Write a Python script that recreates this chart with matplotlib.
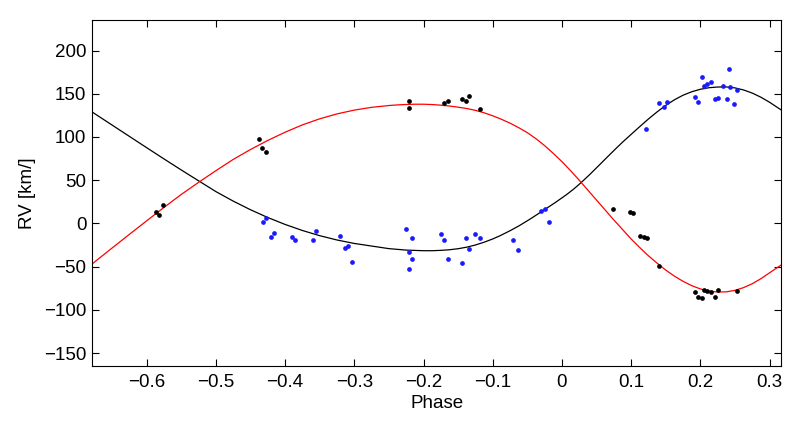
import matplotlib
matplotlib.use("Agg")
import matplotlib.pyplot as plt

plt.rcParams['font.family'] = ['Liberation Sans', 'DejaVu Sans']

# --- fitted model curves ---
black_curve_x = [-0.679, -0.65, -0.625, -0.6, -0.575, -0.55, -0.525, -0.5, -0.475, -0.45,
                 -0.425, -0.4, -0.375, -0.35, -0.325, -0.3, -0.275, -0.25, -0.225, -0.2,
                 -0.1875, -0.175, -0.1625, -0.15, -0.1375, -0.125, -0.1125, -0.1, -0.09, -0.075,
                 -0.0615, -0.045, -0.028, -0.01, 0.006, 0.017, 0.0276, 0.04, 0.054, 0.066,
                 0.078, 0.0875, 0.1, 0.1125, 0.125, 0.1375, 0.15, 0.1625, 0.175, 0.1875,
                 0.2, 0.2125, 0.225, 0.2375, 0.25, 0.2625, 0.275, 0.2875, 0.3, 0.317]
black_curve_y = [129, 113.8, 100.7, 87.6, 74.6, 61.8, 49.3, 36.8, 25.8, 15.8,
                 6.8, -1.2, -8.2, -14.2, -19.2, -23.2, -26.2, -29.2, -30.9, -31.6,
                 -31.6, -31.2, -30.5, -29.3, -27.5, -25.0, -21.8, -18.0, -14.5, -8.5,
                 -2.6, 5.5, 14.4, 23.9, 32.9, 39.7, 47.1, 56.4, 67.5, 77.1,
                 86.6, 93.9, 103.0, 112.0, 120.8, 129.0, 136.5, 143.0, 148.3, 152.3,
                 155.2, 157.0, 157.8, 157.9, 156.8, 154.4, 150.8, 146.0, 140.2, 131.2]

red_curve_x = [-0.679, -0.65, -0.625, -0.6, -0.575, -0.55, -0.525, -0.5, -0.475, -0.45,
               -0.425, -0.4, -0.375, -0.35, -0.325, -0.3, -0.275, -0.25, -0.2375, -0.225,
               -0.2125, -0.2, -0.1875, -0.175, -0.1625, -0.15, -0.1375, -0.125, -0.1125, -0.1,
               -0.0875, -0.075, -0.0625, -0.05, -0.0375, -0.025, -0.0125, 0, 0.0125, 0.025,
               0.0375, 0.05, 0.0625, 0.075, 0.0875, 0.1, 0.1125, 0.125, 0.1375, 0.15,
               0.1625, 0.175, 0.1875, 0.2, 0.2125, 0.225, 0.2375, 0.25, 0.2625, 0.275,
               0.2875, 0.3, 0.317]
red_curve_y = [-47, -28.5, -12.7, 3, 18.5, 33.5, 47.5, 61, 74, 85.5,
               96, 105.5, 114, 121, 126.7, 131.1, 134.3, 136.4, 137.1, 137.6,
               137.9, 137.9, 137.5, 136.8, 135.8, 134.5, 132.9, 130.8, 128.0, 124.5,
               120.5, 116, 110.8, 105, 98, 90, 81, 71.5, 61, 50,
               38.5, 27, 15.5, 4, -7, -18, -28, -37.5, -46, -54,
               -61, -67, -72, -75.8, -78.3, -79.4, -79.2, -77.5, -74.3, -69.8,
               -64, -57.2, -48]

# --- measured velocities ---
black_pts_x = [-0.587, -0.582, -0.577, -0.438, -0.433, -0.428, -0.221, -0.221,
               -0.170, -0.164, -0.145, -0.139, -0.134, -0.119,
               0.074, 0.098, 0.103, 0.113, 0.118, 0.123, 0.141,
               0.192, 0.197, 0.202, 0.205, 0.210, 0.215, 0.221, 0.226, 0.253]
black_pts_y = [13.2, 10.1, 21.6, 97.5, 87.5, 82.5, 142.2, 133.7,
               138.8, 141.1, 144.1, 141.4, 147.6, 132.2,
               17.0, 13.6, 11.7, -14.9, -15.7, -17.2, -49.2,
               -79.5, -85.2, -86.7, -76.5, -77.8, -79.0, -84.6, -77.6, -77.8]

blue_pts_x = [-0.432, -0.427, -0.421, -0.416, -0.390, -0.385, -0.360, -0.355,
              -0.320, -0.314, -0.309, -0.304, -0.226, -0.221, -0.221, -0.216, -0.216,
              -0.175, -0.170, -0.164, -0.145, -0.139, -0.134, -0.125, -0.119,
              -0.070, -0.064, -0.030, -0.024, -0.019,
              0.122, 0.141, 0.147, 0.152, 0.192, 0.197, 0.202, 0.205, 0.210, 0.216,
              0.221, 0.226, 0.233, 0.238, 0.242, 0.243, 0.248, 0.253]
blue_pts_y = [2.0, 5.9, -15.7, -11.0, -16.0, -19.5, -19.1, -9.1,
              -14.9, -28.4, -25.7, -44.9, -6.4, -33.0, -52.3, -16.8, -41.4,
              -11.8, -19.1, -40.7, -46.0, -17.2, -29.2, -11.8, -16.5,
              -19.1, -30.3, 14.4, 16.3, 1.7,
              109.1, 139.5, 134.2, 140.6, 145.7, 140.6, 169.2, 158.8, 161.1, 163.7,
              143.4, 144.6, 159.1, 143.7, 179.2, 158.0, 137.6, 153.8]

x_ticks = [-0.6, -0.5, -0.4, -0.3, -0.2, -0.1, 0, 0.1, 0.2, 0.3]
x_tick_labels = ['\u22120.6', '\u22120.5', '\u22120.4', '\u22120.3', '\u22120.2',
                 '\u22120.1', '0', '0.1', '0.2', '0.3']
y_ticks = [-150, -100, -50, 0, 50, 100, 150, 200]
y_tick_labels = ['\u2212150', '\u2212100', '\u221250', '0', '50', '100', '150', '200']

fig = plt.figure(figsize=(8.04, 4.22), dpi=100)
ax = fig.add_axes([92 / 804, 56 / 422, 689.3 / 804, 345.7 / 422])

ax.plot(black_curve_x, black_curve_y, color='black', lw=0.9, zorder=2)
ax.plot(red_curve_x, red_curve_y, color='#ff0000', lw=0.9, zorder=2)
ax.plot(blue_pts_x, blue_pts_y, 'o', color='#1a1aff', ms=3.4, mew=0, zorder=3)
ax.plot(black_pts_x, black_pts_y, 'o', color='black', ms=3.4, mew=0, zorder=4)

ax.set_xlim(-0.679, 0.317)
ax.set_ylim(-165, 235)
ax.set_xticks(x_ticks)
ax.set_xticklabels(x_tick_labels)
ax.set_yticks(y_ticks)
ax.set_yticklabels(y_tick_labels)
ax.tick_params(direction='in', length=5, width=0.8, top=True, right=True,
               labelsize=13.5, colors='black')
ax.tick_params(axis='x', pad=6)
ax.tick_params(axis='y', pad=4)
for s in ax.spines.values():
    s.set_linewidth(0.8)

ax.set_xlabel('Phase', fontsize=13.5, labelpad=3)
ax.set_ylabel('RV [km/]', fontsize=13.5, labelpad=6)

fig.savefig('out.png', dpi=100)
